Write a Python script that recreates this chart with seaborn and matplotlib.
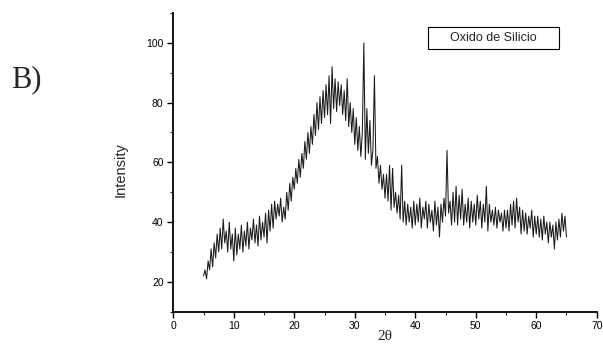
import numpy as np
import pandas as pd
import seaborn as sns
import matplotlib
matplotlib.use("Agg")
import matplotlib.pyplot as plt
from matplotlib.patches import Rectangle

# 2-theta scan from 5 to 65 degrees, step 0.25
two_theta_start = 5.0
two_theta_end = 65.0
intensity = [
    # 5.00 - 9.75
    22, 24, 21, 27, 24, 31, 25, 33, 28, 36, 30, 38, 31, 41, 33, 37, 30, 40, 31, 36,
    # 10.00 - 14.75
    27, 38, 29, 36, 31, 39, 30, 37, 32, 40, 31, 38, 34, 41, 33, 39, 32, 42, 34, 40,
    # 15.00 - 19.75
    35, 43, 33, 44, 37, 46, 38, 47, 41, 46, 42, 48, 40, 45, 41, 50, 44, 53, 47, 55,
    # 20.00 - 24.75
    51, 58, 53, 61, 55, 63, 58, 67, 61, 70, 63, 72, 66, 76, 69, 80, 71, 82, 73, 84,
    # 25.00 - 29.75
    75, 86, 76, 89, 73, 92, 78, 88, 77, 87, 79, 86, 76, 84, 74, 88, 72, 80, 70, 78,
    # 30.00 - 34.75
    66, 75, 64, 72, 62, 70, 100, 61, 78, 63, 74, 59, 64, 89, 58, 62, 53, 59, 51, 56,
    # 35.00 - 39.75
    48, 56, 47, 59, 44, 58, 45, 50, 43, 49, 41, 59, 40, 47, 39, 46, 40, 45, 38, 47,
    # 40.00 - 44.75
    39, 46, 40, 48, 38, 45, 41, 47, 38, 46, 40, 44, 37, 47, 39, 45, 35, 46, 40, 48,
    # 45.00 - 49.75
    42, 64, 43, 47, 39, 50, 40, 52, 39, 49, 41, 51, 39, 46, 40, 48, 38, 47, 40, 46,
    # 50.00 - 54.75
    39, 49, 41, 47, 38, 46, 40, 52, 37, 46, 40, 44, 39, 45, 38, 44, 40, 43, 37, 44,
    # 55.00 - 59.75
    38, 44, 37, 46, 39, 47, 38, 48, 40, 45, 36, 44, 37, 43, 36, 42, 38, 44, 35, 42,
    # 60.00 - 64.75
    36, 42, 35, 41, 34, 42, 36, 40, 33, 40, 35, 39, 31, 40, 34, 41, 35, 43, 37, 42,
    # 65.00
    35,
]
x_ticks = [0, 10, 20, 30, 40, 50, 60, 70]
y_ticks = [20, 40, 60, 80, 100]
legend_label = "Oxido de Silicio"
panel_label = "B)"

two_theta = np.linspace(two_theta_start, two_theta_end, len(intensity))
df = pd.DataFrame({"two_theta": two_theta, "intensity": intensity})

sns.set_theme(style="ticks")
plt.rcParams["font.family"] = ["Liberation Sans", "DejaVu Sans"]

fig = plt.figure(figsize=(6.03, 3.47), dpi=100)
ax = fig.add_axes([0.2874, 0.1017, 0.7022, 0.8608])

sns.lineplot(data=df, x="two_theta", y="intensity", ax=ax,
             color="#1a1a1a", linewidth=0.75, estimator=None)

ax.set_xlim(0, 70)
ax.set_ylim(10, 110)
ax.set_xticks(x_ticks)
ax.set_yticks(y_ticks)
ax.set_xticks([5, 15, 25, 35, 45, 55, 65], minor=True)
ax.set_yticks([10, 30, 50, 70, 90, 110], minor=True)
ax.tick_params(which="major", direction="out", length=4, width=1.0,
               labelsize=7.5, pad=3, colors="black")
ax.tick_params(which="minor", direction="out", length=2.5, width=0.8)

for s in ["top", "right"]:
    ax.spines[s].set_visible(False)
for s in ["left", "bottom"]:
    ax.spines[s].set_linewidth(1.3)
    ax.spines[s].set_color("black")

ax.set_ylabel("Intensity", fontsize=10.5)
ax.yaxis.set_label_coords(-0.107, 0.475)
ax.set_xlabel("2θ", fontsize=11, family=["Liberation Serif", "DejaVu Serif"])
ax.xaxis.set_label_coords(0.5, -0.083)
ax.xaxis.label.set_va("center")

# legend-style box
fig.patches.append(Rectangle((0.7098, 0.8588), 0.2172, 0.0634, transform=fig.transFigure,
                             fill=False, edgecolor="black", linewidth=0.8))
fig.text(0.8184, 0.8905, legend_label, ha="center", va="center", fontsize=9)

fig.text(0.018, 0.77, panel_label, ha="left", va="center", fontsize=22,
         family=["Liberation Serif", "DejaVu Serif"])

fig.savefig("out.png", dpi=100)
